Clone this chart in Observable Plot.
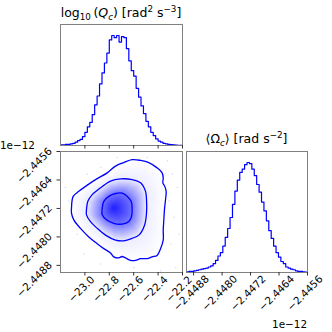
<!DOCTYPE html>
<html><head><meta charset="utf-8">
<script src="https://cdn.jsdelivr.net/npm/d3@7"></script>
<script src="https://cdn.jsdelivr.net/npm/@observablehq/plot@0.6"></script>
<style>
body{margin:0;background:#fff;}
#chart{position:relative;width:332px;height:332px;font-family:"DejaVu Sans",sans-serif;color:#000;overflow:hidden;background:#fff;}
.lbl{position:absolute;font-size:10.4px;white-space:nowrap;line-height:1;}
.ttl{font-size:12.5px;}
.lbl sub{font-size:0.7em;vertical-align:-0.3em;line-height:0;}
.lbl sup{font-size:0.7em;vertical-align:0.55em;line-height:0;}
svg{overflow:visible;}
</style></head><body><div id="chart"></div>
<script>
// ---- data (values in the chart's own units; Omega in units of 1e-12) ----
const qRange = [-23.2, -22.2];
const oRange = [-2.4490, -2.4456];
const qTicks = [-23.0, -22.8, -22.6, -22.4, -22.2];
const qTickLabels = ["−23.0", "−22.8", "−22.6", "−22.4", "−22.2"];
const oTicks = [-2.4488, -2.4480, -2.4472, -2.4464, -2.4456];
const oTickLabels = ["−2.4488", "−2.4480", "−2.4472", "−2.4464", "−2.4456"];
// relative histogram heights (peak = 100)
const qCounts = [0.5,0.5,1,1,1.5,2,3,4.5,5.5,8, 12,17,21,28,37,45,56,66,75,84, 96,100,98,100,94,99,98,88,77,68, 63,52,44,36,29,22,17,12,9,6, 4,3,2,1.5,1,0.8,0.5,0.3,0.2,0.1];
const oCounts = [0.5,1,1,1.5,2,2.5,3,3.5,4,5, 6,8,11,15,18,24,32,40,50,62, 74,84,91,94,98,100,99,94,88,80, 73,64,56,47,38,31,24,18,14,10, 8,5,4,3,2.5,1.5,1,1,0.5,0.3];
// contour lines [logQ, Omega]
const contourOuter = [[-23.110,-2.44719],[-23.096,-2.44686],[-23.050,-2.44672],[-22.995,-2.44658],[-22.913,-2.44639],[-22.817,-2.44620],[-22.749,-2.44601],[-22.681,-2.44591],[-22.613,-2.44583],[-22.544,-2.44585],[-22.476,-2.44591],[-22.408,-2.44606],[-22.367,-2.44620],[-22.358,-2.44634],[-22.361,-2.44648],[-22.345,-2.44658],[-22.334,-2.44672],[-22.339,-2.44695],[-22.348,-2.44724],[-22.353,-2.44752],[-22.358,-2.44781],[-22.358,-2.44809],[-22.380,-2.44833],[-22.408,-2.44852],[-22.449,-2.44856],[-22.490,-2.44861],[-22.544,-2.44861],[-22.585,-2.44866],[-22.626,-2.44866],[-22.667,-2.44859],[-22.695,-2.44855],[-22.722,-2.44859],[-22.763,-2.44856],[-22.790,-2.44845],[-22.845,-2.44833],[-22.899,-2.44819],[-22.968,-2.44800],[-23.036,-2.44776],[-23.091,-2.44752],[-23.110,-2.44733]];
const contourMiddle = [[-22.987,-2.44724],[-22.976,-2.44700],[-22.940,-2.44681],[-22.872,-2.44662],[-22.790,-2.44643],[-22.708,-2.44637],[-22.613,-2.44639],[-22.544,-2.44648],[-22.503,-2.44672],[-22.495,-2.44695],[-22.495,-2.44733],[-22.511,-2.44767],[-22.558,-2.44795],[-22.613,-2.44804],[-22.681,-2.44811],[-22.749,-2.44809],[-22.831,-2.44795],[-22.899,-2.44776],[-22.954,-2.44757],[-22.987,-2.44738]];
const contourInner = [[-22.858,-2.44719],[-22.845,-2.44700],[-22.804,-2.44686],[-22.749,-2.44678],[-22.695,-2.44677],[-22.654,-2.44686],[-22.621,-2.44700],[-22.613,-2.44719],[-22.618,-2.44743],[-22.640,-2.44757],[-22.695,-2.44764],[-22.763,-2.44762],[-22.823,-2.44752],[-22.858,-2.44738]];
// density shade at each contour level and at the peak
const levelShade = [0.0, 0.07, 0.55];
const peak = [-22.763, -2.44719];
const peakShade = 0.88;
// faint individual samples outside the contours
const scatter = [[-22.323,-2.44586],[-22.282,-2.44624],[-22.241,-2.44661],[-22.310,-2.44699],[-22.269,-2.44745],[-22.228,-2.44792],[-22.296,-2.44820],[-22.255,-2.44886],[-23.132,-2.44699],[-23.159,-2.44661],[-23.063,-2.44792],[-22.871,-2.44605],[-22.734,-2.44577],[-22.488,-2.44577],[-22.981,-2.44624],[-22.871,-2.44876],[-22.598,-2.44886],[-22.378,-2.44895],[-23.009,-2.44848]];

const BLUE = "#0000ff";
const chart = document.getElementById("chart");

function stepRows(range, counts) {
  const w = (range[1] - range[0]) / counts.length;
  const rows = [{x: range[0], y: 0}];
  counts.forEach((c, i) => rows.push({x: range[0] + i * w, y: c}));
  rows.push({x: range[1], y: counts[counts.length - 1]});
  rows.push({x: range[1], y: 0});
  return rows;
}
const M = 20;
function place(svg, left, top) {
  svg.style.position = "absolute";
  svg.style.left = (left - M) + "px";
  svg.style.top = (top - M) + "px";
  svg.style.overflow = "visible";
  chart.appendChild(svg);
}
const base = (w, h) => ({width: w + 2 * M, height: h + 2 * M, marginLeft: M, marginRight: M, marginTop: M, marginBottom: M,
  style: {fontFamily: "DejaVu Sans, sans-serif", fontSize: "10px", background: "transparent", overflow: "visible"}});
const txt = {fontSize: 10.4, fill: "#000", textAnchor: "middle", rotate: -45};

// top-left histogram
place(Plot.plot({
  ...base(122, 121),
  x: {domain: qRange},
  y: {domain: [0, 110], axis: null},
  marks: [
    Plot.line(stepRows(qRange, qCounts), {x: "x", y: "y", curve: "step-after", stroke: BLUE, strokeWidth: 1.2}),
    Plot.frame({stroke: "#808080"}),
    Plot.axisX({ticks: qTicks, tickSize: 3.5, tickFormat: () => "", label: null, stroke: "#333"})
  ]
}), 60, 24);

// bottom-left 2D panel
const samples = [];
[[qRange[0], oRange[0]], [qRange[1], oRange[0]], [qRange[0], oRange[1]], [qRange[1], oRange[1]],
 [(qRange[0]+qRange[1])/2, oRange[0]], [(qRange[0]+qRange[1])/2, oRange[1]], [qRange[0], (oRange[0]+oRange[1])/2], [qRange[1], (oRange[0]+oRange[1])/2]]
  .forEach(([q, o]) => samples.push({q, o, v: 0}));
[contourOuter, contourMiddle, contourInner].forEach((c, k) => c.forEach(([q, o]) => samples.push({q, o, v: levelShade[k]})));
samples.push({q: peak[0], o: peak[1], v: peakShade});
const contourRows = [];
[contourOuter, contourMiddle, contourInner].forEach((c, k) => c.forEach(([q, o]) => contourRows.push({q, o, k})));

place(Plot.plot({
  ...base(122, 121),
  x: {domain: qRange},
  y: {domain: oRange},
  color: {type: "linear", domain: [0, 1], range: ["#ffffff", BLUE]},
  marks: [
    Plot.raster(samples, {x: "q", y: "o", fill: "v", interpolate: "barycentric", x1: qRange[0], x2: qRange[1], y1: oRange[0], y2: oRange[1], pixelSize: 1}),
    Plot.dot(scatter, {x: d => d[0], y: d => d[1], r: 0.8, fill: BLUE, fillOpacity: 0.15, stroke: null}),
    Plot.line(contourRows, {x: "q", y: "o", z: "k", curve: "catmull-rom-closed", stroke: BLUE, strokeWidth: 1.3}),
    Plot.frame({stroke: "#808080"}),
    Plot.axisX({ticks: qTicks, tickSize: 3.5, tickFormat: () => "", label: null, stroke: "#333"}),
    Plot.axisY({ticks: oTicks, tickSize: 3.5, tickFormat: () => "", label: null, stroke: "#333"}),
    Plot.text(qTicks, {...txt, x: d => d, text: (d, i) => qTickLabels[i], frameAnchor: "bottom", dy: 19, dx: -1}),
    Plot.text(oTicks, {...txt, y: d => d, text: (d, i) => oTickLabels[i], frameAnchor: "left", dx: -26, dy: 14})
  ]
}), 60, 151);

// bottom-right histogram
place(Plot.plot({
  ...base(121, 121),
  x: {domain: oRange},
  y: {domain: [0, 110], axis: null},
  marks: [
    Plot.line(stepRows(oRange, oCounts), {x: "x", y: "y", curve: "step-after", stroke: BLUE, strokeWidth: 1.2}),
    Plot.frame({stroke: "#808080"}),
    Plot.axisX({ticks: oTicks, tickSize: 3.5, tickFormat: () => "", label: null, stroke: "#333"}),
    Plot.text(oTicks, {...txt, x: d => d, text: (d, i) => oTickLabels[i], frameAnchor: "bottom", dy: 23, dx: 0})
  ]
}), 186, 151);

// titles and offset labels
function label(html, cls, style) {
  const d = document.createElement("div");
  d.className = "lbl " + cls;
  d.innerHTML = html;
  Object.assign(d.style, style);
  chart.appendChild(d);
}
label('log<sub>10</sub>&#8201;(<i>Q</i><sub><i>c</i></sub>) [rad<sup>2</sup> s<sup>−3</sup>]', "ttl", {left: "50px", width: "142px", textAlign: "center", top: "7px"});
label('⟨Ω̇<sub><i>c</i></sub>⟩ [rad s<sup>−2</sup>]', "ttl", {left: "176px", width: "141px", textAlign: "center", top: "133px"});
label('1e−12', "", {left: "0px", top: "139.5px"});
label('1e−12', "", {right: "25px", top: "319px"});
</script></body></html>
